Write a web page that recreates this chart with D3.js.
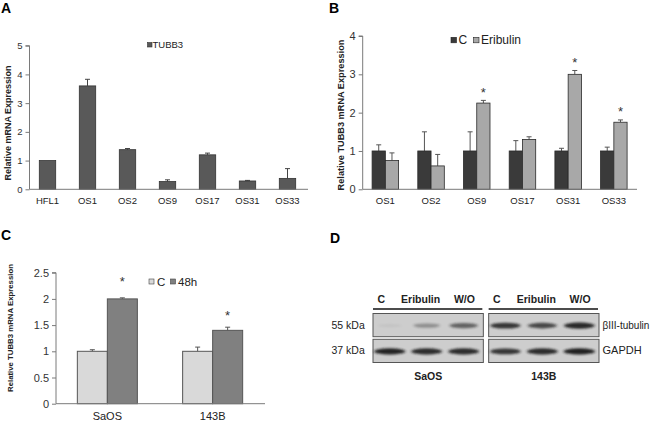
<!DOCTYPE html>
<html><head><meta charset="utf-8">
<script src="https://cdn.jsdelivr.net/npm/d3@7"></script>
<style>
body{margin:0;background:#fff;}
svg{display:block;font-family:"Liberation Sans",Arial,sans-serif;}
</style></head><body>
<svg id="c" width="650" height="424"></svg>
<script>
// ---- Panel A data ----
const aCategories = ["HFL1","OS1","OS2","OS9","OS17","OS31","OS33"];
const aValues = [1.0, 3.6, 1.38, 0.27, 1.2, 0.29, 0.38];
const aErrors = [0.0, 0.23, 0.04, 0.06, 0.06, 0.02, 0.34];
const aTicks = [0,1,2,3,4,5];
// ---- Panel B data ----
const bCategories = ["OS1","OS2","OS9","OS17","OS31","OS33"];
const bSeries = ["C","Eribulin"];
const bControl = [1,1,1,1,1,1];
const bControlErr = [0.16,0.5,0.5,0.27,0.07,0.1];
const bEribulin = [0.75,0.61,2.25,1.3,3.0,1.75];
const bEribulinErr = [0.2,0.3,0.07,0.07,0.1,0.06];
const bStars = [null,null,2.57,null,3.35,2.06];
const bTicks = [0,1,2,3,4];
// ---- Panel C data ----
const cCategories = ["SaOS","143B"];
const cSeries = ["C","48h"];
const cControl = [1.0,1.0];
const cControlErr = [0.03,0.08];
const c48h = [2.0,1.4];
const c48hErr = [0.02,0.06];
const cStars = [2.36,1.72];
const cTicks = [0,0.5,1,1.5,2,2.5];
// ---- Panel D data (western blot) ----
const dCellLines = ["SaOS","143B"];
const dLanes = ["C","Eribulin","W/O"];
const dProteins = ["βIII-tubulin","GAPDH"];
const dSizes = ["55 kDa","37 kDa"];
const dTubulin = [[0.05,0.35,0.6],[0.85,0.75,0.92]];
const dGapdh = [[0.95,0.9,0.9],[0.85,0.9,0.97]];

const svg = d3.select("#c");
const FONT = '"Liberation Sans",Arial,sans-serif';
const axisCol = "#7a7a7a";

function panelLetter(t,x,y){
  svg.append("text").attr("x",x).attr("y",y).attr("font-size",14).attr("font-weight","bold").text(t);
}
function yAxis(g,y,ticks,x0,fs,fmt){
  const ax = d3.axisLeft(y).tickValues(ticks).tickSize(4).tickFormat(fmt||d3.format("")); 
  const a = g.append("g").attr("transform",`translate(${x0},0)`).call(ax);
  a.select(".domain").attr("stroke",axisCol).attr("d",`M-4,${y(ticks[ticks.length-1])}H0V${y(0)}`);
  a.selectAll(".tick line").attr("stroke",axisCol);
  a.selectAll(".tick text").attr("font-size",fs).attr("font-family",FONT).attr("fill","#333").attr("x",-7);
  return a;
}
function xAxis(g,x,y0,x0,x1,fs,dy){
  g.append("line").attr("x1",x0).attr("x2",x1).attr("y1",y0).attr("y2",y0).attr("stroke",axisCol);
  g.selectAll(".xl").data(x.domain()).join("text").attr("x",d=>x(d)+x.bandwidth()/2).attr("y",y0+dy)
   .attr("text-anchor","middle").attr("font-size",fs).attr("fill","#222").text(d=>d);
}
function errBar(g,cx,yTop,yBar,col,cap){
  g.append("line").attr("x1",cx).attr("x2",cx).attr("y1",yBar).attr("y2",yTop).attr("stroke",col);
  g.append("line").attr("x1",cx-cap).attr("x2",cx+cap).attr("y1",yTop).attr("y2",yTop).attr("stroke",col);
}
function yTitle(t,x,y,fs){
  svg.append("text").attr("transform",`translate(${x},${y}) rotate(-90)`).attr("text-anchor","middle")
   .attr("font-size",fs).attr("font-weight","bold").attr("fill","#222").text(t);
}
function star(g,cx,cy){
  g.append("text").attr("x",cx).attr("y",cy+6).attr("text-anchor","middle").attr("font-size",13).attr("fill","#333").text("*");
}

// ================= Panel A =================
panelLetter("A",1,13);
{
  const g = svg.append("g");
  const y = d3.scaleLinear().domain([0,5]).range([189.3,45.7]);
  const x = d3.scaleBand().domain(aCategories).range([27.5,307.5]).paddingInner(0.59).paddingOuter(0.295);
  yAxis(g,y,aTicks,29.5,9.5);
  aCategories.forEach((c,i)=>{
    const cx = x(c)+x.bandwidth()/2;
    if(aErrors[i]>0) errBar(g,cx,y(aValues[i]+aErrors[i]),y(aValues[i]),"#444",2.5);
  });
  g.selectAll(".ba").data(aCategories).join("rect").attr("x",d=>x(d)).attr("width",x.bandwidth())
   .attr("y",(d,i)=>y(aValues[i])).attr("height",(d,i)=>y(0)-y(aValues[i]))
   .attr("fill","#595959").attr("stroke","#333").attr("stroke-width",0.8);
  xAxis(g,x,189.3,29.5,308,9.5,15);
  g.append("rect").attr("x",147.5).attr("y",42.5).attr("width",4.5).attr("height",4.5).attr("fill","#595959").attr("stroke","#333").attr("stroke-width",0.6);
  g.append("text").attr("x",152.5).attr("y",48).attr("font-size",9.5).attr("fill","#222").text("TUBB3");
  yTitle("Relative mRNA Expression",10.5,123,9);
}

// ================= Panel B =================
panelLetter("B",329,13);
{
  const g = svg.append("g");
  const y = d3.scaleLinear().domain([0,4]).range([189.3,36]);
  const x = d3.scaleBand().domain(bCategories).range([362.5,636.7]).paddingInner(0.42).paddingOuter(0.21);
  const xs = d3.scaleBand().domain(bSeries).range([0,x.bandwidth()]);
  yAxis(g,y,bTicks,362.7,11);
  const cols = ["#3a3a3a","#a8a8a8"];
  const vals = [bControl,bEribulin], errs=[bControlErr,bEribulinErr];
  bCategories.forEach((c,i)=>{
    bSeries.forEach((s,j)=>{
      const cx = x(c)+xs(s)+xs.bandwidth()/2;
      errBar(g,cx,y(vals[j][i]+errs[j][i]),y(vals[j][i]),"#555",2.5);
    });
  });
  bSeries.forEach((s,j)=>{
    g.selectAll(".bb"+j).data(bCategories).join("rect").attr("x",d=>x(d)+xs(s)).attr("width",xs.bandwidth())
     .attr("y",(d,i)=>y(vals[j][i])).attr("height",(d,i)=>y(0)-y(vals[j][i]))
     .attr("fill",cols[j]).attr("stroke","#2a2a2a").attr("stroke-width",0.8);
  });
  bCategories.forEach((c,i)=>{ if(bStars[i]!=null) star(g,x(c)+xs("Eribulin")+xs.bandwidth()/2,y(bStars[i])); });
  xAxis(g,x,189.3,362.7,637,9.5,15);
  g.append("rect").attr("x",451).attr("y",37.3).attr("width",5.5).attr("height",5.5).attr("fill",cols[0]).attr("stroke","#222").attr("stroke-width",0.6);
  g.append("text").attr("x",458.5).attr("y",43.5).attr("font-size",12).attr("fill","#222").text("C");
  g.append("rect").attr("x",473.5).attr("y",37.3).attr("width",5.5).attr("height",5.5).attr("fill",cols[1]).attr("stroke","#222").attr("stroke-width",0.6);
  g.append("text").attr("x",481).attr("y",43.5).attr("font-size",12).attr("fill","#222").text("Eribulin");
  yTitle("Relative TUBB3  mRNA Expression",344,115,9.2);
}

// ================= Panel C =================
panelLetter("C",1,240);
{
  const g = svg.append("g");
  const y = d3.scaleLinear().domain([0,2.5]).range([403.7,272.7]);
  const x = d3.scaleBand().domain(cCategories).range([54.7,265.3]).paddingInner(0.43).paddingOuter(0.215);
  const xs = d3.scaleBand().domain(cSeries).range([0,x.bandwidth()]);
  yAxis(g,y,cTicks,56,11);
  const cols = ["#d9d9d9","#808080"];
  const vals=[cControl,c48h], errs=[cControlErr,c48hErr];
  cCategories.forEach((c,i)=>{
    cSeries.forEach((s,j)=>{
      const cx = x(c)+xs(s)+xs.bandwidth()/2;
      errBar(g,cx,y(vals[j][i]+errs[j][i]),y(vals[j][i]),"#555",2.5);
    });
  });
  cSeries.forEach((s,j)=>{
    g.selectAll(".bc"+j).data(cCategories).join("rect").attr("x",d=>x(d)+xs(s)).attr("width",xs.bandwidth())
     .attr("y",(d,i)=>y(vals[j][i])).attr("height",(d,i)=>y(0)-y(vals[j][i]))
     .attr("fill",cols[j]).attr("stroke","#555").attr("stroke-width",1);
  });
  cCategories.forEach((c,i)=>star(g,x(c)+xs("48h")+xs.bandwidth()/2,y(cStars[i])));
  xAxis(g,x,403.7,56,265,11,16);
  g.append("rect").attr("x",149).attr("y",279).attr("width",5).attr("height",5).attr("fill",cols[0]).attr("stroke","#444").attr("stroke-width",0.6);
  g.append("text").attr("x",157).attr("y",285.5).attr("font-size",11.5).attr("fill","#222").text("C");
  g.append("rect").attr("x",170.5).attr("y",279).attr("width",5).attr("height",5).attr("fill",cols[1]).attr("stroke","#444").attr("stroke-width",0.6);
  g.append("text").attr("x",178).attr("y",285.5).attr("font-size",11.5).attr("fill","#222").text("48h");
  yTitle("Relative TUBB3 mRNA Expression",13,328,7.8);
}

// ================= Panel D =================
panelLetter("D",330,243);
{
  const g = svg.append("g");
  const defs = svg.append("defs");
  defs.append("filter").attr("id","blur").attr("x","-50%").attr("y","-100%").attr("width","200%").attr("height","300%")
    .append("feGaussianBlur").attr("stdDeviation","1.6 1.1");
  const boxX = d3.scaleBand().domain(dCellLines).range([373,599]).paddingInner(0.046);
  const rowY = d3.scaleBand().domain(dProteins).range([313.5,362.5]).paddingInner(0.1);
  const intens = [dTubulin,dGapdh];
  const labelShift = [-8.5,-6,0.8];
  dCellLines.forEach((cl,ci)=>{
    const bx = boxX(cl), bw = boxX.bandwidth();
    const lane = d3.scaleBand().domain(dLanes).range([bx+1,bx+bw-4]).paddingInner(0.15);
    g.append("line").attr("x1",bx).attr("x2",bx+bw-1).attr("y1",309).attr("y2",309).attr("stroke","#111").attr("stroke-width",1.6);
    dLanes.forEach((l,li)=>{
      g.append("text").attr("x",lane(l)+lane.bandwidth()/2+labelShift[li]).attr("y",303).attr("text-anchor","middle")
       .attr("font-size",10.5).attr("font-weight","bold").attr("fill","#222").text(l);
    });
    dProteins.forEach((p,pi)=>{
      const ry = rowY(p), rh = rowY.bandwidth();
      g.append("rect").attr("x",bx).attr("y",ry).attr("width",bw).attr("height",rh)
       .attr("fill","#cdcdcd").attr("stroke","#555").attr("stroke-width",1);
      dLanes.forEach((l,li)=>{
        const v = intens[pi][ci][li];
        g.append("ellipse").attr("cx",lane(l)+lane.bandwidth()/2).attr("cy",ry+rh/2+0.5)
         .attr("rx",lane.bandwidth()/2*(0.75+0.25*v)).attr("ry",1.6+1.6*v)
         .attr("fill","#1e1e1e").attr("opacity",v).attr("filter","url(#blur)");
      });
    });
    g.append("text").attr("x",bx+bw/2).attr("y",380).attr("text-anchor","middle").attr("font-size",10.5)
     .attr("font-weight","bold").attr("fill","#222").text(cl);
  });
  dProteins.forEach((p,pi)=>{
    const cy = rowY(p)+rowY.bandwidth()/2;
    g.append("text").attr("x",331.5).attr("y",cy+3.5).attr("font-size",10.5).attr("fill","#222").text(dSizes[pi]);
    g.append("text").attr("x",602.5).attr("y",cy+3.5).attr("font-size",pi===0?10:11).attr("fill","#222").text(p);
  });
}
</script>
</body></html>
